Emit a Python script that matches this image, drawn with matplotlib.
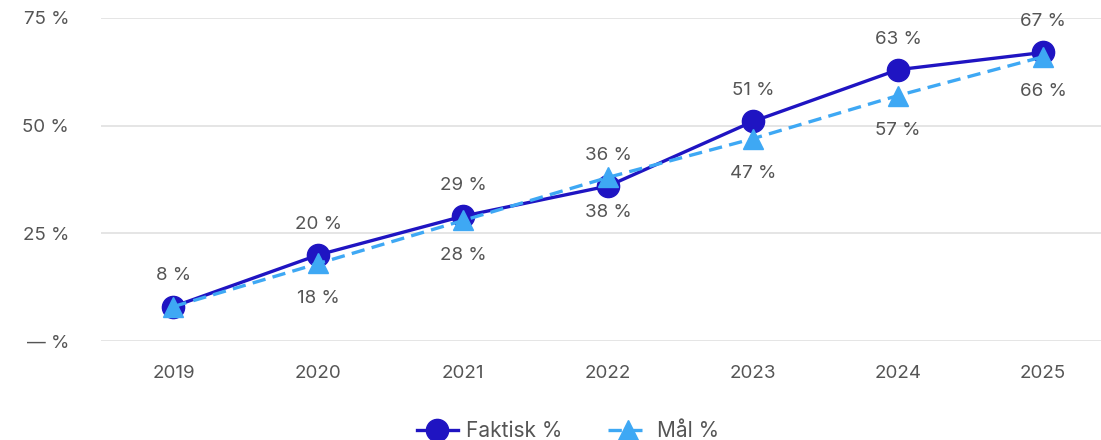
import matplotlib
matplotlib.use("Agg")
import matplotlib.pyplot as plt

years = ["2019", "2020", "2021", "2022", "2023", "2024", "2025"]
faktisk = [8, 20, 29, 36, 51, 63, 67]
maal = [8, 18, 28, 38, 47, 57, 66]
maal_labels = ["", "18 %", "28 %", "38 %", "47 %", "57 %", "66 %"]
ytick_vals = [0, 25, 50, 75]
ytick_labels = ["— %", "25 %", "50 %", "75 %"]

plt.rcParams['font.family'] = ['Inter', 'DejaVu Sans']
text_col = "#555555"
c_fak = "#1f14c2"
c_maal = "#3ea8f4"
fs = 13.5

fig = plt.figure(figsize=(11.01, 4.40), dpi=100)
ax = fig.add_axes([101/1101, (440-341)/440, 1000/1101, (341-18)/440])

x = list(range(len(years)))
ax.plot(x, maal, color=c_maal, lw=2.4, ls=(0, (4, 2.2)), marker="^", ms=14,
        label="Mål %", zorder=3, clip_on=False)
ax.plot(x, faktisk, color=c_fak, lw=2.4, marker="o", ms=16,
        label="Faktisk %", zorder=2, clip_on=False)

for xi, v in zip(x, faktisk):
    ax.annotate(f"{v} %", (xi, v), xytext=(0, 22), textcoords="offset points",
                ha="center", va="center", fontsize=fs, color=text_col)
for xi, v, lab in zip(x, maal, maal_labels):
    if lab:
        ax.annotate(lab, (xi, v), xytext=(0, -25), textcoords="offset points",
                    ha="center", va="center", fontsize=fs, color=text_col)

ax.set_xlim(-0.5, 6.4)
ax.set_ylim(0, 75)
ax.set_xticks(x)
ax.set_xticklabels(years)
ax.set_yticks(ytick_vals)
ax.set_yticklabels(ytick_labels)
ax.tick_params(axis="both", length=0, labelsize=fs, colors=text_col)
ax.tick_params(axis="x", pad=17)
ax.tick_params(axis="y", pad=23)
ax.grid(axis="y", color="#e3e3e3", lw=1.3)
ax.set_axisbelow(True)
for s in ax.spines.values():
    s.set_visible(False)

handles, labels = ax.get_legend_handles_labels()
leg = fig.legend(handles[::-1], labels[::-1], loc="center", bbox_to_anchor=(568/1101, 1 - 431/440),
                 ncol=2, frameon=False, fontsize=15, handlelength=1.95, columnspacing=2.2,
                 labelcolor=text_col, handletextpad=0.4, borderpad=0, borderaxespad=0)

fig.savefig("out.png", dpi=100)
